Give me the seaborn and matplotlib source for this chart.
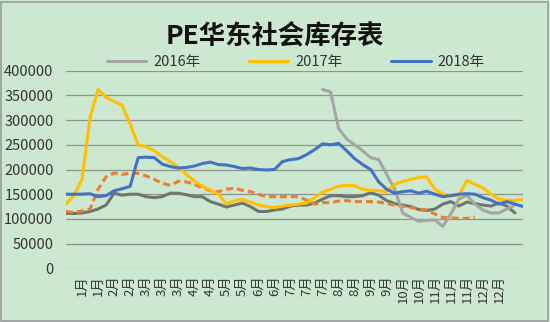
import numpy as np
import pandas as pd
import matplotlib
matplotlib.use("Agg")
import matplotlib.pyplot as plt
from matplotlib.patches import Rectangle
import seaborn as sns

# Weekly inventory readings (tonnes), one slot per category position
s2016 = [None] * 32 + [362000, 357000, 283000, 262000, 250000, 238000, 224000, 220000,
                       190000, 160000, 112000, 103000, 95000, 97000, 98000, 85000,
                       110000, 140000, 148000, 130000, 118000, 112000, 112000, 120000,
                       128000]
s2017 = [130000, 148000, 180000, 305000, 362000, 346000, 338000, 330000, 292000, 250000,
         246000, 238000, 226000, 216000, 205000, 190000, 177000, 166000, 158000, 150000,
         131000, 136000, 140000, 134000, 128000, 125000, 123000, 126000, 128000, 130000,
         132000, 143000, 154000, 160000, 166000, 168000, 167000, 160000, 158000, 157000,
         155000, 170000, 176000, 180000, 184000, 185000, 160000, 150000, 148000, 147000,
         178000, 170000, 163000, 150000, 140000, 138000, 137000, 140000]
s2018 = [150000, 150000, 150000, 151000, 145000, 147000, 157000, 161000, 166000, 224000,
         225000, 224000, 211000, 206000, 203000, 204000, 207000, 212000, 215000, 210000,
         209000, 206000, 202000, 203000, 200000, 199000, 200000, 216000, 220000, 222000,
         230000, 240000, 252000, 250000, 253000, 238000, 222000, 210000, 200000, 175000,
         160000, 152000, 155000, 157000, 152000, 156000, 150000, 145000, 147000, 150000,
         151000, 150000, 143000, 138000, 130000, 135000, 130000, 125000]
s_dashed = [115000, 113000, 116000, 120000, 160000, 185000, 193000, 190000, 193000, 192000,
            187000, 180000, 172000, 168000, 176000, 175000, 170000, 163000, 157000, 155000,
            160000, 162000, 158000, 155000, 150000, 145000, 145000, 145000, 145000, 145000,
            138000, 130000, 133000, 133000, 136000, 137000, 135000, 135000, 135000, 134000,
            131000, 128000, 126000, 123000, 120000, 118000, 110000, 103000, 102000, 101000,
            101000, 103000]
s_dark = [111000, 111000, 112000, 115000, 120000, 128000, 152000, 148000, 150000, 150000,
          145000, 143000, 145000, 152000, 152000, 149000, 145000, 145000, 135000, 130000,
          124000, 128000, 132000, 125000, 115000, 115000, 118000, 120000, 126000, 128000,
          128000, 132000, 140000, 147000, 147000, 145000, 145000, 147000, 153000, 148000,
          137000, 131000, 128000, 125000, 119000, 117000, 120000, 130000, 135000, 126000,
          134000, 131000, 128000, 126000, 132000, 126000, 112000]

month_labels = ['1月', '1月', '2月', '2月', '3月', '3月', '3月', '4月', '4月', '5月',
                '5月', '6月', '6月', '7月', '7月', '7月', '8月', '8月', '9月', '9月',
                '10月', '10月', '11月', '11月', '11月', '12月', '12月']
y_ticks = [0, 50000, 100000, 150000, 200000, 250000, 300000, 350000, 400000]

n_points = 58


def to_frame(values, name):
    vals = list(values) + [None] * (n_points - len(values))
    return pd.DataFrame({"idx": np.arange(n_points),
                         "value": pd.array(vals, dtype="Float64").astype(float),
                         "series": name})


bg = "#CDE8D0"
sns.set_theme(style="white", rc={"axes.facecolor": bg, "figure.facecolor": bg})
plt.rcParams["font.family"] = ["Noto Sans CJK SC", "DejaVu Sans"]

fig = plt.figure(figsize=(5.5, 3.22), dpi=100)
ax = fig.add_axes([66 / 550, 1 - 268.3 / 322, (523 - 66) / 550, (268.3 - 70.7) / 322])
ax.set_facecolor(bg)

series = [
    (s_dark, "_dark", "#6F756F", "-"),
    (s_dashed, "_dash", "#ED7D31", "--"),
    (s2016, "2016年", "#A5A5A5", "-"),
    (s2017, "2017年", "#FFC000", "-"),
    (s2018, "2018年", "#4472C4", "-"),
]
handles = []
for vals, name, color, ls in series:
    df = to_frame(vals, name)
    sns.lineplot(data=df, x="idx", y="value", ax=ax, color=color, linewidth=2.2,
                 linestyle=ls, legend=False, estimator=None, sort=False)
    line = ax.lines[-1]
    line.set_solid_capstyle("round")
    if ls == "--":
        line.set_dashes((2.3, 1.3))
    if not name.startswith("_"):
        handles.append((line, name))

ax.set_xlim(0, n_points - 1)
ax.set_ylim(0, 400000)
ax.set_yticks(y_ticks)
ax.set_yticklabels([str(v) for v in y_ticks], fontsize=10.5, color="#333333")
ax.set_xticks(np.arange(2, 2 + 2 * len(month_labels), 2))
ax.set_xticklabels(month_labels, rotation=90, fontsize=9.5, color="#333333", va="top")
ax.tick_params(axis="y", length=0, pad=9)
ax.tick_params(axis="x", length=0, pad=5)
ax.set_xlabel("")
ax.set_ylabel("")
ax.grid(axis="y", color="#8C948C", linewidth=0.9)
ax.grid(axis="x", visible=False)
for sp in ax.spines.values():
    sp.set_visible(False)

leg = fig.legend([h for h, _ in handles], [n for _, n in handles], ncol=3,
                 loc="center", bbox_to_anchor=(296 / 550, 1 - 61.7 / 322),
                 frameon=False, fontsize=10.5, handlelength=2.7, handletextpad=0.5,
                 columnspacing=3.3, labelcolor="#333333")

fig.text(0.5, 1 - 36 / 322, "PE华东社会库存表", ha="center", va="center",
         fontsize=19, fontweight="bold", color="#111111")

fig.patches.append(Rectangle((0.002, 0.004), 0.994, 0.99, transform=fig.transFigure,
                             fill=False, edgecolor="#9A9A9A", linewidth=1.2))

fig.savefig("out.png", dpi=100, facecolor=bg)
